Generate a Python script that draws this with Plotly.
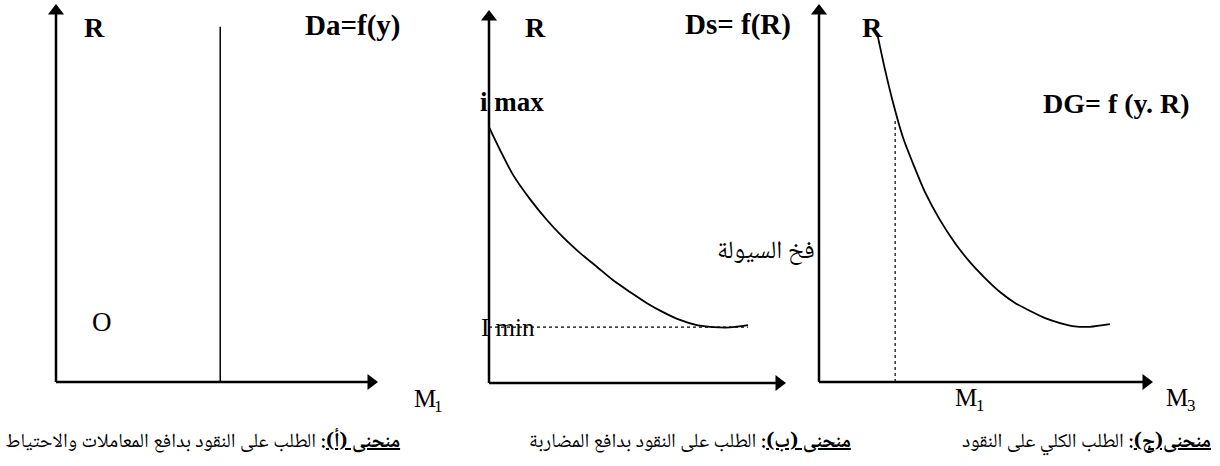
import plotly.graph_objects as go

# ---------------- data (diagram units, 0..10 on each panel) ----------------
# Panel (a): transactions & precautionary demand, vertical line
a_line_x = [5.1, 5.1]
a_line_y = [0.0, 9.4]

# Panel (b): speculative demand curve
b_curve_x = [0.0, 0.37, 0.81, 1.38, 1.95, 2.49, 3.06, 3.64, 4.17, 4.75, 5.32, 5.86,
             6.43, 7.0, 7.54, 8.11, 8.72]
b_curve_y = [6.86, 6.25, 5.58, 4.93, 4.37, 3.91, 3.49, 3.11, 2.76, 2.44, 2.14, 1.90,
             1.69, 1.55, 1.50, 1.49, 1.55]
b_imin_x = [0.0, 8.72]
b_imin_y = [1.50, 1.50]

# Panel (c): total demand curve
c_curve_x = [1.74, 1.98, 2.22, 2.51, 2.81, 3.17, 3.62, 4.07, 4.52, 4.97, 5.42, 5.87,
             6.32, 6.77, 7.22, 7.66, 8.11, 8.71]
c_curve_y = [9.23, 8.25, 7.38, 6.48, 5.79, 5.03, 4.29, 3.68, 3.17, 2.75, 2.38, 2.09,
             1.88, 1.69, 1.56, 1.47, 1.46, 1.53]
c_m1_x = [2.28, 2.28]
c_m1_y = [0.0, 6.98]

captions = [
    "<b><u>منحنى (أ)</u>:</b> الطلب على النقود بدافع المعاملات والاحتياط",
    "<b><u>منحنى (ب)</u>:</b> الطلب على النقود بدافع المضاربة",
    "<b><u>منحنى(ج)</u>:</b> الطلب الكلي على النقود",
]
trap_label = "فخ السيولة"

# ---------------- figure ----------------
W, H = 1220, 466
LAT = "Liberation Serif, Times New Roman, serif"
AR = "Noto Naskh Arabic, Amiri, DejaVu Sans, sans-serif"

YR = [-1.2, 10.1]
AXIS_END = 10.0
HEAD = 14  # arrowhead marker size (px)

fig = go.Figure()

# pixel geometry of each panel: origin, axis tips and x-range
geom = {
    "": dict(px0=56, px10=378, py0=382, py10=4, xr=[-1.5, 12.5]),
    "2": dict(px0=489, px10=786, py0=383, py10=10, xr=[-1.5, 12.0]),
    "3": dict(px0=819, px10=1153, py0=382, py10=4, xr=[-1.5, 12.0]),
}

def dom_x(px0, px10, xr):
    u = (px10 - px0) / 10.0
    return [(px0 + xr[0] * u) / W, (px0 + xr[1] * u) / W]

def dom_y(py0, py10):
    u = (py0 - py10) / 10.0
    bottom = py0 - YR[0] * u
    top = py0 - YR[1] * u
    return [max(0.0, 1 - bottom / H), min(1.0, 1 - top / H)]

# axes with arrowheads
for s, g in geom.items():
    ux = (g["px10"] - g["px0"]) / 10.0
    uy = (g["py0"] - g["py10"]) / 10.0
    offx = (HEAD / 2) / ux
    offy = (HEAD / 2) / uy
    fig.add_trace(go.Scatter(x=[0, AXIS_END - offx], y=[0, 0], mode="lines",
                             line=dict(color="black", width=2.5),
                             xaxis="x" + s, yaxis="y" + s, cliponaxis=False, hoverinfo="skip"))
    fig.add_trace(go.Scatter(x=[0, 0], y=[0, AXIS_END - offy], mode="lines",
                             line=dict(color="black", width=2.5),
                             xaxis="x" + s, yaxis="y" + s, cliponaxis=False, hoverinfo="skip"))
    fig.add_trace(go.Scatter(x=[AXIS_END - offx, 0], y=[0, AXIS_END - offy], mode="markers",
                             marker=dict(symbol=["triangle-right", "triangle-up"], size=HEAD,
                                         color="black", line=dict(width=0)),
                             xaxis="x" + s, yaxis="y" + s, cliponaxis=False, hoverinfo="skip"))

fig.add_trace(go.Scatter(x=a_line_x, y=a_line_y, mode="lines",
                         line=dict(color="black", width=1.5),
                         xaxis="x", yaxis="y", cliponaxis=False, hoverinfo="skip"))

fig.add_trace(go.Scatter(x=b_imin_x, y=b_imin_y, mode="lines",
                         line=dict(color="black", width=1.2, dash="dot"),
                         xaxis="x2", yaxis="y2", cliponaxis=False, hoverinfo="skip"))
fig.add_trace(go.Scatter(x=b_curve_x, y=b_curve_y, mode="lines",
                         line=dict(color="black", width=1.8, shape="spline", smoothing=0.8),
                         xaxis="x2", yaxis="y2", cliponaxis=False, hoverinfo="skip"))

fig.add_trace(go.Scatter(x=c_m1_x, y=c_m1_y, mode="lines",
                         line=dict(color="black", width=1.2, dash="dot"),
                         xaxis="x3", yaxis="y3", cliponaxis=False, hoverinfo="skip"))
fig.add_trace(go.Scatter(x=c_curve_x, y=c_curve_y, mode="lines",
                         line=dict(color="black", width=1.8, shape="spline", smoothing=0.8),
                         xaxis="x3", yaxis="y3", cliponaxis=False, hoverinfo="skip"))

annotations = []

def lab(text, x, y, s, size=28, bold=False, xanchor="center", family=LAT):
    annotations.append(dict(x=x, y=y, xref="x" + s, yref="y" + s, text=text,
                            showarrow=False, xanchor=xanchor, yanchor="middle",
                            font=dict(family=family, size=size, color="black",
                                      weight="bold" if bold else "normal")))

def mlabel(sub, x, y, s):
    # "M" with a subscript digit, as two plain texts
    lab("M", x, y, s, size=25)
    lab(sub, x + 0.44, y - 0.2, s, size=17)

# panel a
lab("R", 1.21, 9.39, "", bold=True)
lab("Da=f(y)", 9.2, 9.44, "", bold=True, size=29)
lab("O", 1.43, 1.59, "", size=27)
mlabel("1", 11.45, -0.44, "")

# panel b
lab("R", 1.55, 9.54, "2", bold=True)
lab("Ds= f(R)", 8.38, 9.6, "2", bold=True, size=29)
lab("i max", 0.77, 7.53, "2", size=27, bold=True)
lab("I min", 0.64, 1.5, "2", size=25)
lab(trap_label, 11.05, 3.51, "2", size=25, xanchor="right", family=AR)

# panel c
lab("R", 1.59, 9.39, "3", bold=True)
lab("DG= f (y. R)", 8.92, 7.38, "3", bold=True)
mlabel("1", 4.4, -0.42, "3")
mlabel("3", 10.72, -0.42, "3")

# captions (paper coords)
for text, right in zip(captions, [402, 853, 1213]):
    annotations.append(dict(x=right / W, y=1 - 443 / H, xref="paper", yref="paper",
                            text=text, showarrow=False, xanchor="right", yanchor="middle",
                            font=dict(family=AR, size=20, color="black")))

layout = dict(width=W, height=H, margin=dict(l=0, r=0, t=0, b=0),
              paper_bgcolor="white", plot_bgcolor="rgba(0,0,0,0)", showlegend=False,
              annotations=annotations)
for s, g in geom.items():
    common = dict(visible=False, showgrid=False, zeroline=False, fixedrange=True)
    layout["xaxis" + s] = dict(domain=dom_x(g["px0"], g["px10"], g["xr"]), anchor="y" + s,
                               range=g["xr"], **common)
    layout["yaxis" + s] = dict(domain=dom_y(g["py0"], g["py10"]), anchor="x" + s,
                               range=YR, **common)

fig.update_layout(**layout)
fig.write_html("out.html", config={"displayModeBar": False},
               post_script="document.body.style.margin='0';")
